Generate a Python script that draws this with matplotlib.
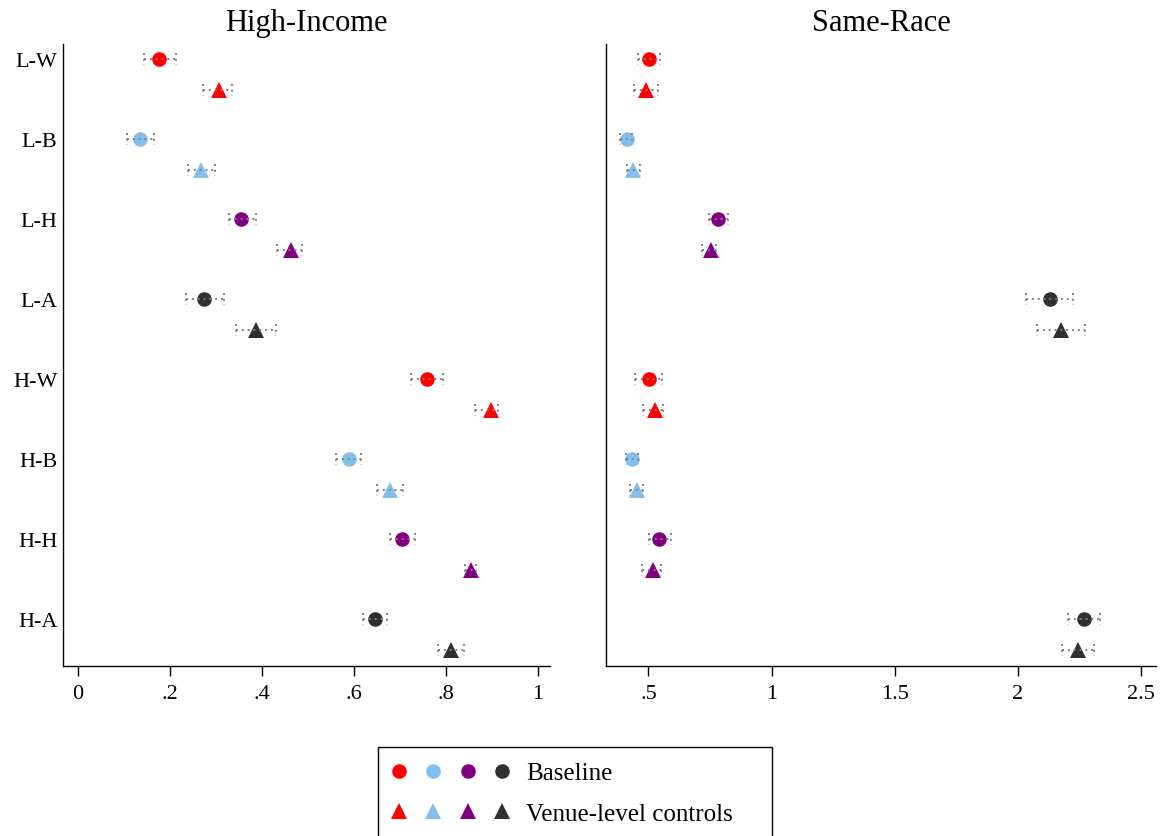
import matplotlib
matplotlib.use("Agg")
import matplotlib.pyplot as plt
from matplotlib.legend_handler import HandlerTuple
import numpy as np

plt.rcParams['font.family'] = ['Liberation Serif', 'DejaVu Serif']

categories = ['L-W', 'L-B', 'L-H', 'L-A', 'H-W', 'H-B', 'H-H', 'H-A']
colors = ['#FF0000', '#82BFEC', '#800080', '#303030'] * 2

# High-Income panel
hi_base = [0.176, 0.135, 0.354, 0.274, 0.758, 0.588, 0.704, 0.646]
hi_base_lo = [0.143, 0.106, 0.329, 0.235, 0.723, 0.561, 0.677, 0.620]
hi_base_hi = [0.213, 0.164, 0.386, 0.317, 0.794, 0.615, 0.733, 0.671]
hi_ctrl = [0.307, 0.267, 0.463, 0.387, 0.897, 0.678, 0.854, 0.810]
hi_ctrl_lo = [0.272, 0.239, 0.433, 0.343, 0.862, 0.649, 0.842, 0.783]
hi_ctrl_hi = [0.335, 0.298, 0.486, 0.430, 0.912, 0.706, 0.866, 0.839]

# Same-Race panel
sr_base = [0.504, 0.412, 0.783, 2.130, 0.501, 0.432, 0.545, 2.266]
sr_base_lo = [0.457, 0.386, 0.748, 2.033, 0.447, 0.409, 0.501, 2.201]
sr_base_hi = [0.549, 0.432, 0.823, 2.225, 0.556, 0.459, 0.592, 2.331]
sr_ctrl = [0.492, 0.439, 0.753, 2.174, 0.528, 0.452, 0.518, 2.243]
sr_ctrl_lo = [0.443, 0.413, 0.717, 2.079, 0.477, 0.427, 0.474, 2.178]
sr_ctrl_hi = [0.539, 0.465, 0.775, 2.272, 0.560, 0.477, 0.550, 2.309]

hi_ticks = [0, 0.2, 0.4, 0.6, 0.8, 1.0]
hi_ticklabels = ['0', '.2', '.4', '.6', '.8', '1']
sr_ticks = [0.5, 1.0, 1.5, 2.0, 2.5]
sr_ticklabels = ['.5', '1', '1.5', '2', '2.5']

W, H = 1164, 837
fig = plt.figure(figsize=(W / 100, H / 100), dpi=100)

ax1 = fig.add_axes([63 / W, 1 - 667 / H, (550 - 63) / W, (667 - 45) / H])
ax2 = fig.add_axes([606 / W, 1 - 667 / H, (1156 - 606) / W, (667 - 45) / H])

offset = 0.39
cap = 0.075
ypos = np.arange(len(categories))
CIRC_MS = 10.5
TRI_MS = 12

def draw_panel(ax, base, blo, bhi, ctrl, clo, chi, title, ticks, labels, xlim, show_y):
    for i in range(len(categories)):
        col = colors[i]
        for val, lo, hi, y, mk, ms in [(base[i], blo[i], bhi[i], ypos[i], 'o', CIRC_MS),
                                        (ctrl[i], clo[i], chi[i], ypos[i] + offset, '^', TRI_MS)]:
            ax.plot([val], [y], marker=mk, color=col, markersize=ms,
                    linestyle='none', zorder=3, markeredgewidth=0)
            ax.hlines(y, lo, hi, colors='#808080', linestyles=(0, (1, 2.0)),
                      linewidth=1.4, zorder=4)
            ax.vlines([lo, hi], y - cap, y + cap, colors='#808080',
                      linestyles=(0, (1, 2.0)), linewidth=1.4, zorder=4)
    ax.set_xlim(*xlim)
    ax.set_ylim(7.59, -0.19)
    ax.set_xticks(ticks)
    ax.set_xticklabels(labels, fontsize=16)
    ax.tick_params(axis='x', length=7, width=1.0, pad=6)
    if show_y:
        ax.set_yticks(ypos)
        ax.set_yticklabels(categories, fontsize=16)
        ax.tick_params(axis='y', length=0, pad=4)
    else:
        ax.set_yticks([])
    for s in ['top', 'right']:
        ax.spines[s].set_visible(False)
    for s in ['left', 'bottom']:
        ax.spines[s].set_linewidth(1.0)
    ax.set_title(title, fontsize=22, pad=10)

draw_panel(ax1, hi_base, hi_base_lo, hi_base_hi, hi_ctrl, hi_ctrl_lo, hi_ctrl_hi,
           'High-Income', hi_ticks, hi_ticklabels, (-0.033, 1.026), True)
draw_panel(ax2, sr_base, sr_base_lo, sr_base_hi, sr_ctrl, sr_ctrl_lo, sr_ctrl_hi,
           'Same-Race', sr_ticks, sr_ticklabels, (0.328, 2.56), False)

legend_colors = ['#FF0000', '#82BFEC', '#800080', '#303030']
circ = tuple(plt.Line2D([], [], marker='o', color=c, markersize=CIRC_MS, linestyle='none',
                        markeredgewidth=0) for c in legend_colors)
tri = tuple(plt.Line2D([], [], marker='^', color=c, markersize=TRI_MS, linestyle='none',
                       markeredgewidth=0) for c in legend_colors)
leg = fig.legend([circ, tri], ['Baseline', 'Venue-level controls'],
                 handler_map={tuple: HandlerTuple(ndivide=None, pad=0.9)},
                 loc='upper left',
                 bbox_to_anchor=(378 / W, 1 - 748 / H, (772 - 378) / W, 0.0),
                 mode='expand',
                 fontsize=18, handlelength=4.6, handletextpad=0.72,
                 borderpad=0.6, labelspacing=0.72, fancybox=False,
                 edgecolor='black', framealpha=1, borderaxespad=0)
leg.get_frame().set_linewidth(1.0)

fig.savefig('out.png', dpi=100)
